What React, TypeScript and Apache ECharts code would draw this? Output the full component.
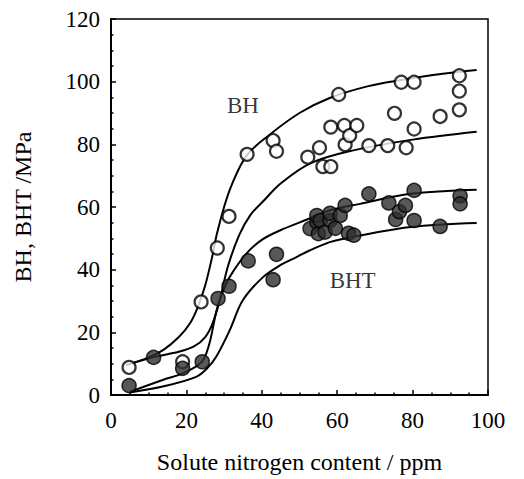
import React, { useEffect, useRef } from "react";
import * as echarts from "echarts";

const xTicks = [0, 20, 40, 60, 80, 100];
const yTicks = [0, 20, 40, 60, 80, 100, 120];

const bhPoints: [number, number][] = [
  [4.8, 8.8], [19, 10.6], [23.9, 29.7], [28.2, 46.9], [31.3, 57], [36.1, 76.8],
  [43, 81.2], [43.9, 77.8], [52.2, 75.9], [55.3, 78.9], [56.2, 72.9], [58.3, 72.9],
  [58.3, 85.5], [60.4, 95.9], [61.9, 86], [62.1, 79.9], [63.3, 82.8], [65.2, 86],
  [68.4, 79.6], [73.4, 79.6], [75.2, 89.9], [77, 99.8], [78.3, 78.9], [80.4, 99.8],
  [80.4, 84.9], [87.3, 88.9], [92.4, 101.9], [92.4, 97], [92.4, 91],
];

const bhtPoints: [number, number][] = [
  [4.8, 3], [11.3, 12], [19, 8.5], [24.2, 10.6], [28.4, 30.8], [31.3, 34.7],
  [36.4, 42.8], [43, 36.8], [43.9, 44.9], [52.8, 53.1], [54.6, 55.2], [54.6, 57.3],
  [55, 51.5], [55.5, 55.7], [56.8, 52], [58.1, 55.7], [58.1, 58], [59.5, 53.2],
  [60.8, 57.3], [62.1, 60.5], [63, 51.6], [64.4, 51], [68.4, 64.2], [73.7, 61.3],
  [75.5, 56], [76.5, 58.5], [78.1, 60.5], [80.4, 65.3], [80.4, 55.7], [87.3, 53.8],
  [92.6, 63.5], [92.6, 61],
];

const bhUpperCurve: [number, number][] = [
  [4, 9.5], [10, 12], [14, 14.5], [18, 18.5], [21, 23], [23, 28], [25, 35], [27, 45],
  [28, 51], [30, 60], [32, 67], [36, 76.5], [42, 83], [50, 90], [58, 94.8], [68, 98.5],
  [77, 100.5], [88, 102.5], [97, 103.7],
];

const bhLowerCurve: [number, number][] = [
  [4, 9.5], [11, 12], [18, 13.8], [22, 15.5], [25, 18.5], [27, 23], [29, 31], [31, 41],
  [34, 51], [37, 57.5], [40.5, 62], [45, 67.5], [53, 74], [64, 78], [80, 81.5], [97, 84],
];

const bhtUpperCurve: [number, number][] = [
  [5, 1], [13.7, 4.8], [19, 6.9], [24, 10.5], [26, 16], [28, 27], [29.5, 32.5],
  [31.5, 37.7], [35.9, 45.1], [40, 49.5], [44.8, 52.5], [52, 56], [58, 58.9], [66, 61],
  [79.5, 64.2], [97, 65.5],
];

const bhtLowerCurve: [number, number][] = [
  [5, 0.8], [13.7, 2.7], [22.6, 5.8], [25.5, 8.5], [27.9, 12.2], [31.5, 20.7], [35, 30.3],
  [40.4, 37.7], [45, 41.5], [49.2, 44], [52.8, 46.2], [58, 48.8], [61.7, 49.9],
  [79.5, 53.6], [97, 54.9],
];

const textLabels: { name: string; value: [number, number] }[] = [
  { name: "BH", value: [35, 92.4] },
  { name: "BHT", value: [64.1, 36.5] },
];

const FONT = "'Liberation Serif', 'Times New Roman', serif";

export default function App() {
  const ref = useRef<HTMLDivElement>(null);
  useEffect(() => {
    if (!ref.current) return;
    const chart = echarts.init(ref.current, undefined, { renderer: "svg" });
    const curve = (data: [number, number][]) => ({
      type: "line",
      data,
      smooth: 0.35,
      showSymbol: false,
      symbol: "none",
      lineStyle: { color: "#000", width: 2 },
      z: 2,
      silent: true,
    });
    chart.setOption({
      animation: false,
      backgroundColor: "#fff",
      grid: {
        left: 111,
        right: 36,
        top: 19,
        bottom: 84,
        show: true,
        borderColor: "#000",
        borderWidth: 1.5,
      },
      xAxis: {
        type: "value",
        min: xTicks[0],
        max: xTicks[xTicks.length - 1],
        interval: 20,
        name: "Solute nitrogen content / ppm",
        nameLocation: "middle",
        nameGap: 55,
        nameTextStyle: { fontFamily: FONT, fontSize: 24, color: "#000" },
        axisLine: { show: true, lineStyle: { color: "#000", width: 2 } },
        axisTick: { show: true, inside: true, length: 5, lineStyle: { color: "#000", width: 1.5 } },
        minorTick: { show: true, splitNumber: 4, length: 2.5, lineStyle: { color: "#000", width: 1.5 } },
        splitLine: { show: false },
        axisLabel: { fontFamily: FONT, fontSize: 23, color: "#000", margin: 14 },
      },
      yAxis: {
        type: "value",
        min: yTicks[0],
        max: yTicks[yTicks.length - 1],
        interval: 20,
        name: "BH, BHT /MPa",
        nameLocation: "middle",
        nameGap: 76,
        nameTextStyle: { fontFamily: FONT, fontSize: 24, color: "#000" },
        axisLine: { show: true, lineStyle: { color: "#000", width: 2 } },
        axisTick: { show: true, inside: true, length: 5, lineStyle: { color: "#000", width: 1.5 } },
        minorTick: { show: true, splitNumber: 4, length: 2.5, lineStyle: { color: "#000", width: 1.5 } },
        splitLine: { show: false },
        axisLabel: { fontFamily: FONT, fontSize: 23, color: "#000", margin: 11 },
      },
      series: [
        curve(bhUpperCurve),
        curve(bhLowerCurve),
        curve(bhtUpperCurve),
        curve(bhtLowerCurve),
        {
          type: "scatter",
          name: "BH",
          data: bhPoints,
          symbol: "circle",
          symbolSize: 13,
          itemStyle: { color: "#fff", borderColor: "#000", borderWidth: 2.2 },
          z: 5,
        },
        {
          type: "scatter",
          name: "BHT",
          data: bhtPoints,
          symbol: "circle",
          symbolSize: 14,
          itemStyle: { color: "#2e2e2e", borderColor: "#000", borderWidth: 1.5 },
          z: 5,
        },
        {
          type: "scatter",
          data: textLabels,
          symbolSize: 0,
          silent: true,
          label: {
            show: true,
            position: "inside",
            formatter: (p: any) => p.name,
            fontFamily: FONT,
            fontSize: 23,
            color: "#000",
          },
          z: 6,
        },
      ],
    });
    return () => chart.dispose();
  }, []);
  return <div ref={ref} style={{ width: 524, height: 479, position: "absolute", left: 0, top: 0 }} />;
}
